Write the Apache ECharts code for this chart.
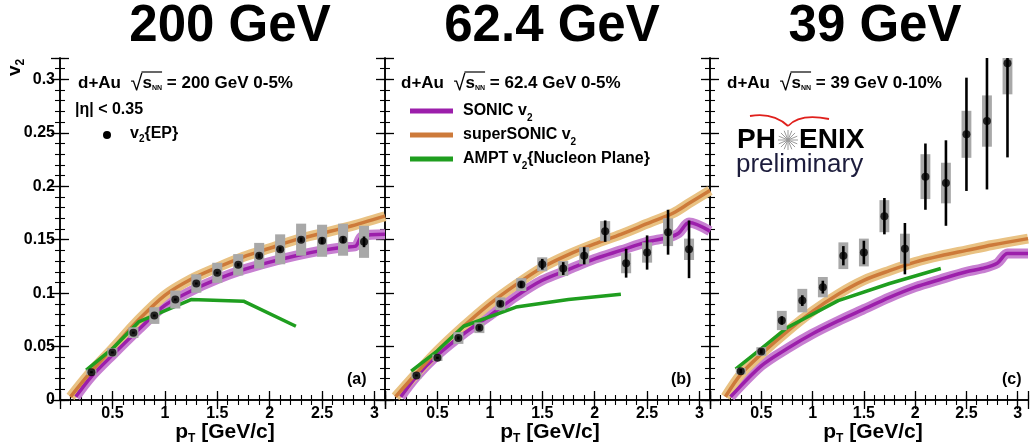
<!DOCTYPE html>
<html>
<head>
<meta charset="utf-8">
<script src="https://cdn.jsdelivr.net/npm/echarts@6/dist/echarts.min.js"></script>
<style>
html, body { margin: 0; padding: 0; background: #fff; }
#chart { width: 1031px; height: 444px; }
</style>
</head>
<body>
<div id="chart"></div>
<script>
// pT bin centres of the measured points (same binning in all panels)
const ptBins = [0.3, 0.5, 0.7, 0.9, 1.1, 1.3, 1.5, 1.7, 1.9, 2.1, 2.3, 2.5, 2.7, 2.9]

// 200 GeV, 0-5%
const v2_200 = [0.026, 0.0445, 0.063, 0.079, 0.094, 0.109, 0.119, 0.1265, 0.135, 0.141, 0.150, 0.149, 0.150, 0.148]
const stat_200 = [0.001, 0.001, 0.001, 0.001, 0.001, 0.001, 0.001, 0.0015, 0.002, 0.002, 0.002, 0.003, 0.003, 0.005]
const sys_200 = [0.0025, 0.004, 0.005, 0.0078, 0.0084, 0.0086, 0.0094, 0.010, 0.012, 0.014, 0.015, 0.015, 0.015, 0.015]

// 62.4 GeV, 0-5%
const v2_62 = [0.023, 0.0395, 0.058, 0.0676, 0.090, 0.108, 0.127, 0.123, 0.135, 0.158, 0.128, 0.138, 0.157, 0.141]
const stat_62 = [0.001, 0.001, 0.0015, 0.002, 0.0025, 0.003, 0.005, 0.006, 0.008, 0.010, 0.0135, 0.016, 0.021, 0.027]
const sys_62 = [0.003, 0.003, 0.0055, 0.005, 0.006, 0.006, 0.0065, 0.007, 0.008, 0.0094, 0.0094, 0.0095, 0.013, 0.010]

// 39 GeV, 0-10%
const v2_39 = [0.027, 0.0454, 0.0744, 0.093, 0.1056, 0.135, 0.138, 0.172, 0.1416, 0.209, 0.203, 0.2486, 0.261, 0.315]
const stat_39 = [0.002, 0.002, 0.004, 0.005, 0.006, 0.009, 0.011, 0.017, 0.024, 0.031, 0.040, 0.053, 0.064, 0.088]
const sys_39 = [0.003, 0.004, 0.009, 0.011, 0.0095, 0.0125, 0.013, 0.015, 0.014, 0.021, 0.019, 0.022, 0.024, 0.029]

// SONIC curves
const sonicPt_200 = [0.15, 0.3, 0.5, 0.75, 1.0, 1.25, 1.5, 1.75, 2.0, 2.25, 2.5, 2.7, 2.82, 2.88, 3.1]
const sonic_200 = [0.003, 0.022, 0.042, 0.066, 0.0885, 0.102, 0.113, 0.122, 0.129, 0.135, 0.140, 0.143, 0.144, 0.153, 0.155]
const sonicPt_62 = [0.15, 0.3, 0.5, 0.75, 1.0, 1.25, 1.5, 1.75, 2.0, 2.25, 2.5, 2.7, 2.8, 2.9, 3.1]
const sonic_62 = [0.003, 0.022, 0.042, 0.062, 0.079, 0.097, 0.112, 0.122, 0.132, 0.140, 0.148, 0.152, 0.156, 0.166, 0.158]
const sonicPt_39 = [0.2, 0.5, 0.75, 1.0, 1.25, 1.5, 1.75, 2.0, 2.25, 2.5, 2.65, 2.8, 2.9, 3.1]
const sonic_39 = [0.003, 0.032, 0.048, 0.062, 0.074, 0.085, 0.096, 0.1056, 0.113, 0.120, 0.123, 0.128, 0.137, 0.137]

// superSONIC curves
const superPt_200 = [0.1, 0.3, 0.5, 0.75, 1.0, 1.25, 1.5, 1.75, 2.0, 2.25, 2.5, 2.75, 3.1]
const super_200 = [0.003, 0.027, 0.048, 0.075, 0.098, 0.113, 0.124, 0.134, 0.142, 0.150, 0.156, 0.162, 0.172]
const superPt_62 = [0.1, 0.3, 0.5, 0.75, 1.0, 1.25, 1.5, 1.75, 2.0, 2.25, 2.5, 2.75, 2.9, 3.1]
const super_62 = [0.003, 0.025, 0.046, 0.069, 0.090, 0.108, 0.124, 0.136, 0.146, 0.155, 0.165, 0.175, 0.184, 0.196]
const superPt_39 = [0.15, 0.3, 0.5, 0.75, 1.0, 1.25, 1.5, 1.75, 2.0, 2.25, 2.5, 2.75, 3.1]
const super_39 = [0.003, 0.024, 0.043, 0.064, 0.083, 0.099, 0.112, 0.121, 0.129, 0.135, 0.140, 0.145, 0.151]

// AMPT v2{Nucleon Plane}
const amptPt = [0.25, 0.5, 0.75, 1.25, 1.75, 2.25]
const ampt_200 = [0.028, 0.048, 0.073, 0.094, 0.0925, 0.069]
const ampt_62 = [0.027, 0.046, 0.069, 0.087, 0.094, 0.099]
const ampt_39 = [0.029, 0.048, 0.0676, 0.093, 0.109, 0.123]

const xTicks = [0.5, 1, 1.5, 2, 2.5, 3]
const yTicks = [0, 0.05, 0.1, 0.15, 0.2, 0.25, 0.3]

const FONT = '"Liberation Sans", Arial, Helvetica, sans-serif'
const PURPLE = '#9c1fab', PURPLE_BAND = '#c77fd1'
const ORANGE = '#cd7a3a', ORANGE_BAND = '#e9c283'
const GREEN = '#1f9e1f'

const panels = [
  { left: 60, v2: v2_200, stat: stat_200, sys: sys_200, sonicPt: sonicPt_200, sonic: sonic_200, superPt: superPt_200, sup: super_200, ampt: ampt_200 },
  { left: 385, v2: v2_62, stat: stat_62, sys: sys_62, sonicPt: sonicPt_62, sonic: sonic_62, superPt: superPt_62, sup: super_62, ampt: ampt_62 },
  { left: 710, v2: v2_39, stat: stat_39, sys: sys_39, sonicPt: sonicPt_39, sonic: sonic_39, superPt: superPt_39, sup: super_39, ampt: ampt_39 }
]

const near = (v, list) => list.some(t => Math.abs(t - v) < 1e-6)
const zip = (xs, ys) => xs.map((x, i) => [x, ys[i]])

const grids = [], xAxes = [], yAxes = [], series = []

const tickLabel = { fontFamily: FONT, fontWeight: 'bold', fontSize: 16, color: '#000' }

panels.forEach((p, i) => {
  grids.push({ left: p.left, top: 58, width: 325, height: 342 })
  const xBase = { type: 'value', gridIndex: i, min: 0, max: 3.1, splitLine: { show: false } }
  const yBase = { type: 'value', gridIndex: i, min: 0, max: 0.32, splitLine: { show: false } }
  const line = { show: true, lineStyle: { color: '#000', width: 1.5 } }
  const major = { show: true, inside: true, length: 9, lineStyle: { color: '#000', width: 1.3 } }
  const minor = { show: true, inside: true, length: 5, lineStyle: { color: '#000', width: 1.1 } }
  // x axes: major bottom, minor bottom, major top, minor top
  xAxes.push(
    { ...xBase, position: 'bottom', interval: 0.5, axisLine: line, axisTick: major,
      axisLabel: { ...tickLabel, margin: 6, formatter: v => near(v, xTicks) ? String(v) : '' } },
    { ...xBase, position: 'bottom', interval: 0.1, axisLine: { show: false }, axisTick: minor, axisLabel: { show: false } },
    { ...xBase, position: 'top', interval: 0.5, axisLine: line, axisTick: major, axisLabel: { show: false } },
    { ...xBase, position: 'top', interval: 0.1, axisLine: { show: false }, axisTick: minor, axisLabel: { show: false } }
  )
  yAxes.push(
    { ...yBase, position: 'left', interval: 0.05, axisLine: line, axisTick: major,
      axisLabel: { ...tickLabel, show: i === 0, margin: 5, formatter: v => near(v, yTicks) ? String(+v.toFixed(2)) : '' } },
    { ...yBase, position: 'left', interval: 0.01, axisLine: { show: false }, axisTick: minor, axisLabel: { show: false } },
    { ...yBase, position: 'right', interval: 0.05, axisLine: line, axisTick: major, axisLabel: { show: false } },
    { ...yBase, position: 'right', interval: 0.01, axisLine: { show: false }, axisTick: minor, axisLabel: { show: false } }
  )

  const ax = { xAxisIndex: i * 4, yAxisIndex: i * 4 }
  const curve = (data, color, width, z, smooth) => ({
    type: 'line', ...ax, data, symbol: 'none', smooth, z, clip: true,
    lineStyle: { color, width }, silent: true
  })
  // theory bands (wide light line) and central values
  series.push(curve(zip(p.sonicPt, p.sonic), PURPLE_BAND, 10, 1, 0.3))
  series.push(curve(zip(p.superPt, p.sup), ORANGE_BAND, 10, 1, 0.3))
  series.push(curve(zip(p.sonicPt, p.sonic), PURPLE, 3.5, 2, 0.3))
  series.push(curve(zip(p.superPt, p.sup), ORANGE, 3.5, 2, 0.3))
  series.push(curve(zip(amptPt, p.ampt), GREEN, 3.5, 3, false))

  // systematic boxes
  series.push({
    type: 'custom', ...ax, clip: true, z: 4, silent: true,
    data: ptBins.map((x, k) => [x, p.v2[k], p.sys[k]]),
    encode: { x: 0, y: 1 },
    renderItem: (params, api) => {
      const lo = api.coord([api.value(0) - 0.048, api.value(1) - api.value(2)])
      const hi = api.coord([api.value(0) + 0.048, api.value(1) + api.value(2)])
      return { type: 'rect', shape: { x: lo[0], y: hi[1], width: hi[0] - lo[0], height: lo[1] - hi[1] },
        style: { fill: '#a8a8a8' } }
    }
  })
  // statistical error bars
  series.push({
    type: 'custom', ...ax, clip: true, z: 5, silent: true,
    data: ptBins.map((x, k) => [x, p.v2[k], p.stat[k]]),
    encode: { x: 0, y: 1 },
    renderItem: (params, api) => {
      const lo = api.coord([api.value(0), api.value(1) - api.value(2)])
      const hi = api.coord([api.value(0), api.value(1) + api.value(2)])
      return { type: 'line', shape: { x1: lo[0], y1: lo[1], x2: hi[0], y2: hi[1] },
        style: { stroke: '#000', lineWidth: 2.6 } }
    }
  })
  series.push({
    type: 'scatter', ...ax, data: zip(ptBins, p.v2), symbol: 'circle', symbolSize: 8,
    itemStyle: { color: '#000' }, z: 6, clip: true, silent: true
  })
})

// ---- text helpers (sub/superscripts laid out piece by piece) ----
const measureCtx = document.createElement('canvas').getContext('2d')
function textWidth(t, size, weight) {
  measureCtx.font = `${weight || 'bold'} ${size}px ${FONT}`
  return measureCtx.measureText(t).width
}
function textRow(x, y, parts, align) {
  const widths = parts.map(p => textWidth(p.t, p.size, p.weight))
  const total = widths.reduce((a, b) => a + b, 0)
  let cx = align === 'center' ? x - total / 2 : x
  const els = [], xs = []
  parts.forEach((p, k) => {
    xs.push(cx)
    els.push({ type: 'text', silent: true, z: 100, style: {
      x: cx, y: y + (p.dy || 0), text: p.t, fill: p.color || '#000',
      font: `${p.weight || 'bold'} ${p.size}px ${FONT}`, align: 'left', verticalAlign: 'middle' } })
    cx += widths[k]
  })
  xs.push(cx)
  return { els, xs }
}
function energyLabel(x, y, energy, cent) {
  const r = textRow(x, y, [
    { t: 'd+Au  ', size: 17 },
    { t: '√', size: 22, weight: 'normal', dy: 1 },
    { t: 's', size: 17 },
    { t: 'NN', size: 7, dy: 5 },
    { t: ' = ' + energy + ' GeV ' + cent, size: 17 }
  ])
  r.els.push({ type: 'line', silent: true, z: 100,
    shape: { x1: r.xs[2] - 1, y1: y - 11, x2: r.xs[4], y2: y - 11 }, style: { stroke: '#000', lineWidth: 1.2 } })
  return r.els
}

const graphics = []
// big titles
;[['200 GeV', 230], ['62.4 GeV', 552], ['39 GeV', 875]].forEach(([t, x]) => {
  graphics.push({ type: 'text', silent: true, style: { x, y: 27, text: t, fill: '#000',
    font: `bold 51px ${FONT}`, align: 'center', verticalAlign: 'middle' } })
})
// axis titles
graphics.push({ type: 'group', x: 15, y: 76, rotation: Math.PI / 2,
  children: textRow(0, 0, [{ t: 'v', size: 19 }, { t: '2', size: 12, dy: 6 }]).els })
;[225, 550, 873].forEach(cx => {
  graphics.push(...textRow(cx, 432, [{ t: 'p', size: 21 }, { t: 'T', size: 12, dy: 7 }, { t: ' [GeV/c]', size: 21 }], 'center').els)
})
// panel annotations
graphics.push(...energyLabel(78, 83, '200', '0-5%'))
graphics.push(...energyLabel(401, 83, '62.4', '0-5%'))
graphics.push(...energyLabel(727, 83, '39', '0-10%'))
graphics.push(...textRow(75, 110, [{ t: '|η| < 0.35', size: 16 }]).els)
graphics.push({ type: 'circle', silent: true, z: 100, shape: { cx: 107, cy: 135, r: 4 }, style: { fill: '#000' } })
graphics.push(...textRow(130, 134, [{ t: 'v', size: 16 }, { t: '2', size: 10, dy: 5 }, { t: '{EP}', size: 16 }]).els)

// legend of panel (b)
;[[PURPLE, 'SONIC v', '', 111], [ORANGE, 'superSONIC v', '', 135], [GREEN, 'AMPT v', '{Nucleon Plane}', 159]].forEach(([c, a, b, y]) => {
  graphics.push({ type: 'line', silent: true, z: 100, shape: { x1: 410, y1: y, x2: 453, y2: y }, style: { stroke: c, lineWidth: 5 } })
  graphics.push(...textRow(463, y, [{ t: a, size: 16 }, { t: '2', size: 10, dy: 7 }, { t: b, size: 16 }]).els)
})

// PHENIX preliminary logo
graphics.push({ type: 'bezierCurve', silent: true, z: 100, shape: { x1: 750, y1: 116, x2: 788, y2: 126, cpx1: 773, cpy1: 112 }, style: { stroke: '#e0201c', lineWidth: 1.8, fill: null } })
graphics.push({ type: 'bezierCurve', silent: true, z: 100, shape: { x1: 788, y1: 126, x2: 829, y2: 119, cpx1: 800, cpy1: 113 }, style: { stroke: '#e0201c', lineWidth: 1.8, fill: null } })
graphics.push(...textRow(737, 140, [{ t: 'PH', size: 28 }]).els)
graphics.push(...textRow(799, 140, [{ t: 'ENIX', size: 28 }]).els)
for (let k = 0; k < 8; k++) {
  const a = k * Math.PI / 8
  graphics.push({ type: 'line', silent: true, z: 100,
    shape: { x1: 788 - 10 * Math.cos(a), y1: 140 - 10 * Math.sin(a), x2: 788 + 10 * Math.cos(a), y2: 140 + 10 * Math.sin(a) },
    style: { stroke: '#9a9a9a', lineWidth: 1 } })
}
graphics.push(...textRow(736, 165, [{ t: 'preliminary', size: 26, weight: 'normal', color: '#1c1c3c' }]).els)

// panel letters
graphics.push(...textRow(347, 380, [{ t: '(a)', size: 16 }]).els)
graphics.push(...textRow(671, 380, [{ t: '(b)', size: 16 }]).els)
graphics.push(...textRow(1002, 380, [{ t: '(c)', size: 16 }]).els)

const chart = echarts.init(document.getElementById('chart'), null, { renderer: 'canvas' })
chart.setOption({
  animation: false,
  backgroundColor: '#fff',
  grid: grids,
  xAxis: xAxes,
  yAxis: yAxes,
  series,
  graphic: graphics
})
</script>
</body>
</html>
